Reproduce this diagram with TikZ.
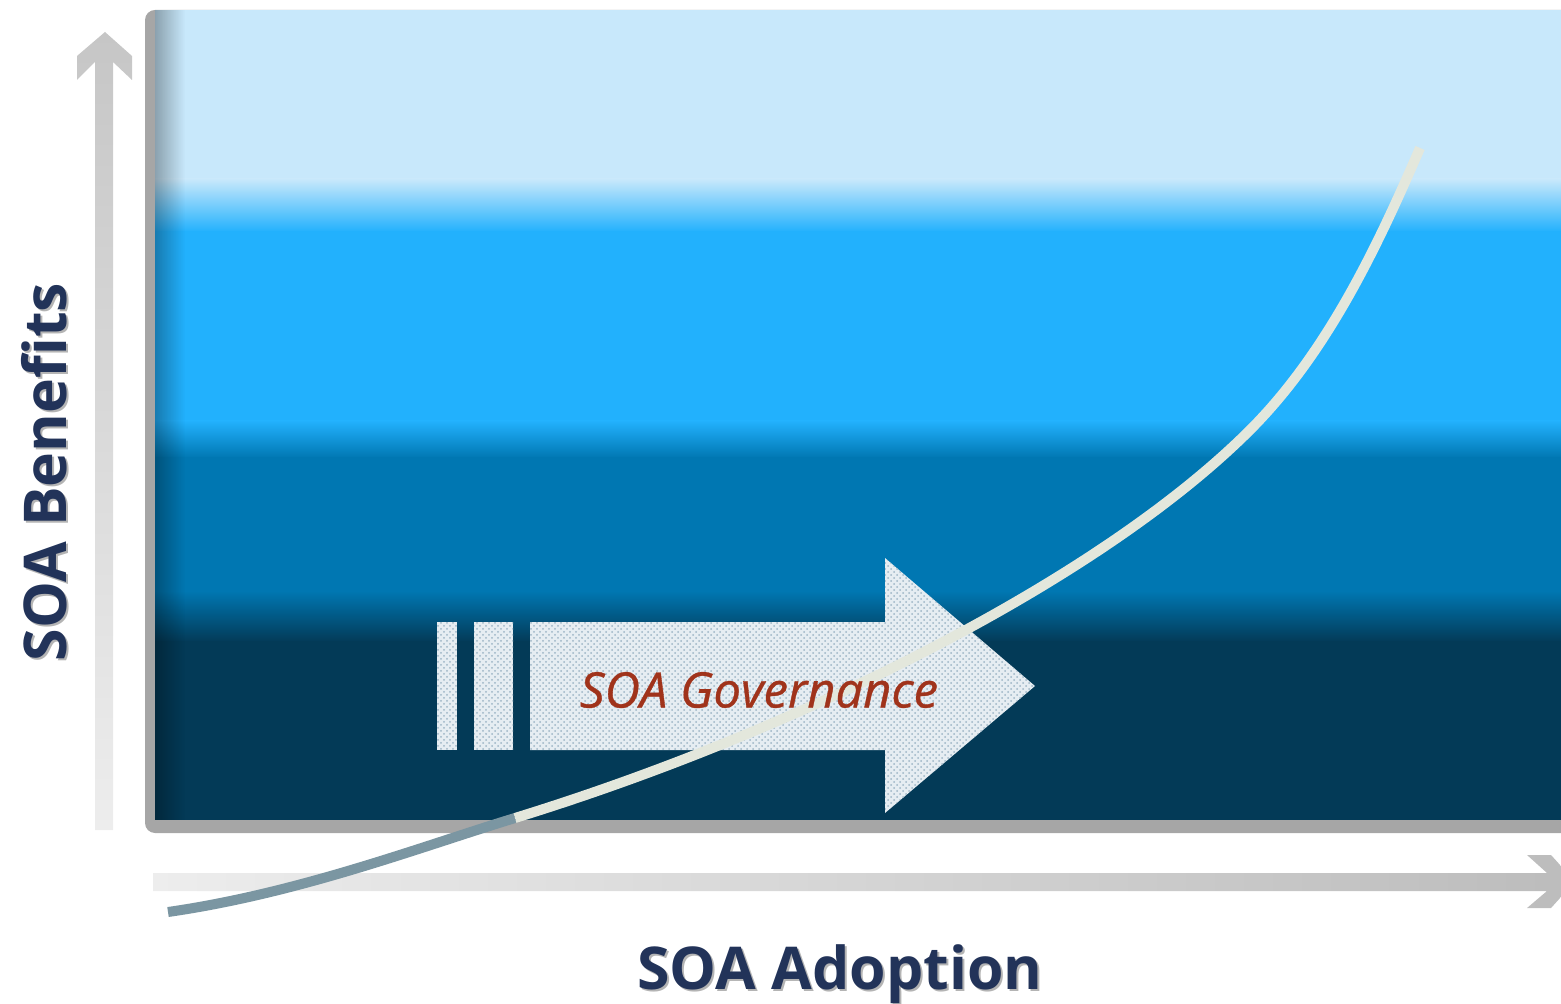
\documentclass[tikz,border=0pt]{standalone}
\usepackage{fontspec}
\setmainfont{Open Sans}
\newfontfamily\govfont[FakeBold=0.7]{Open Sans}
\usetikzlibrary{patterns,fadings}
\definecolor{lightband}{HTML}{C8E8FB}
\definecolor{brightband}{HTML}{22B1FD}
\definecolor{midband}{HTML}{0077B2}
\definecolor{darkband}{HTML}{033A57}
\definecolor{framegray}{HTML}{A6A6A6}
\definecolor{navytext}{HTML}{223359}
\definecolor{shadowgray}{HTML}{B4B4B4}
\definecolor{govred}{HTML}{A0331B}
\definecolor{curvelight}{HTML}{E3E7DC}
\definecolor{curvedark}{HTML}{7B96A2}
\definecolor{arrowfill}{HTML}{E6EDF2}
\definecolor{arrowdot}{HTML}{9DB5C5}
\definecolor{axistop}{HTML}{C6C6C6}
\definecolor{axisbottom}{HTML}{EDEDED}
\tikzfading[name=fadeleft, left color=transparent!0, right color=transparent!100]
\tikzset{
  govfill/.style={fill=arrowfill, postaction={pattern=crosshatch dots, pattern color=arrowdot}},
  axislabel/.style={font=\bfseries\fontsize{29.5}{34}\selectfont, inner sep=0pt},
  curveline/.style={line width=5pt}
}
\begin{document}
\begin{tikzpicture}[x=0.5pt,y=-0.5pt]
\useasboundingbox (0,0) rectangle (1561,1004);
\clip (0,0) rectangle (1561,1004);
% frame
\fill[framegray, rounded corners=5pt] (145,10) rectangle (1600,833);
% bands
\fill[lightband] (155,10) rectangle (1600,180);
\shade[top color=lightband, bottom color=brightband] (155,179) rectangle (1600,232);
\fill[brightband] (155,231) rectangle (1600,422);
\shade[top color=brightband, bottom color=midband] (155,421) rectangle (1600,458);
\fill[midband] (155,457) rectangle (1600,592);
\shade[top color=midband, bottom color=darkband] (155,591) rectangle (1600,642);
\fill[darkband] (155,641) rectangle (1600,820);
% inner shadow at left edge
\fill[black, path fading=fadeleft, fill opacity=0.3] (155,10) rectangle (185,820);
% vertical axis arrow
\shade[top color=axistop, bottom color=axisbottom] (105,32) -- (132,56) -- (132,80) -- (113,62) -- (113,830) -- (95,830) -- (95,62) -- (77,80) -- (77,56) -- cycle;
% horizontal axis arrow
\shade[left color=axisbottom, right color=axistop!95!black] (153,873) -- (1547,873) -- (1527,855) -- (1551,855) -- (1575,881.5) -- (1551,908) -- (1527,908) -- (1547,891) -- (153,891) -- cycle;
% governance arrow
\path[govfill] (437,622) rectangle (457,750);
\path[govfill] (474,622) rectangle (513,750);
\path[govfill] (530,622) -- (885,622) -- (885,558) -- (1035,686) -- (885,813) -- (885,750) -- (530,750) -- cycle;
% curve
\coordinate (c0) at (168,912);
\coordinate (c1) at (515,818);
\coordinate (c2) at (1250,430);
\coordinate (c3) at (1420,148);
\draw[curveline, curvedark] (c0) .. controls (300,893) and (420,847) .. (c1);
\draw[curveline, curvelight] (c1) .. controls (800,730) and (1100,580) .. (c2) .. controls (1330,350) and (1380,240) .. (c3);
\node[text=govred, font=\govfont\itshape\fontsize{24.5}{28}\selectfont, inner sep=0pt] (gov) at (759,690) {SOA Governance};
% axis labels
\node[axislabel, text=shadowgray, rotate=90, anchor=base] at (68,474) {SOA Benefits};
\node[axislabel, text=navytext, rotate=90, anchor=base] (benefits) at (66,472) {SOA Benefits};
\node[axislabel, text=shadowgray, anchor=base] at (842,991) {SOA Adoption};
\node[axislabel, text=navytext, anchor=base] (adoption) at (840,989) {SOA Adoption};
\end{tikzpicture}
\end{document}
